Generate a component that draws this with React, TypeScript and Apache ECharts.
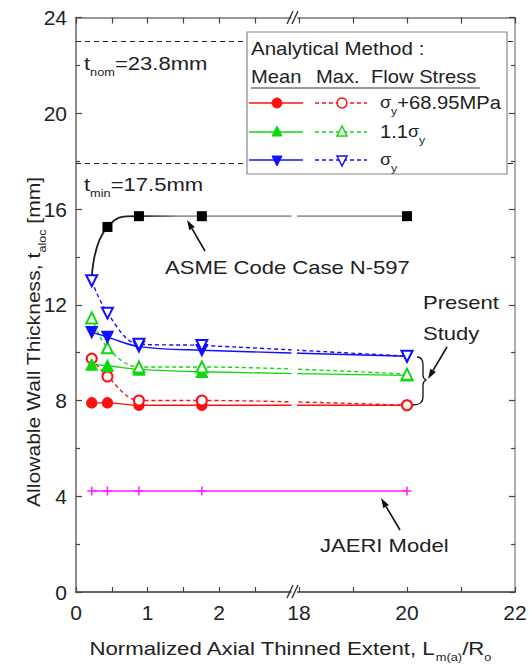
import { useEffect, useRef } from 'react';
import * as echarts from 'echarts';

// ---- data ----
const xValues = [0.22, 0.44, 0.88, 1.76, 20];
const redMean = [7.9, 7.9, 7.8, 7.8, 7.8];
const redMax = [9.75, 9.0, 8.0, 8.0, 7.8];
const greenMean = [9.5, 9.45, 9.3, 9.2, 9.05];
const greenMax = [11.45, 10.2, 9.4, 9.4, 9.1];
const blueMean = [10.85, 10.65, 10.25, 10.1, 9.85];
const blueMax = [13.0, 11.65, 10.35, 10.3, 9.85];
const asme = [13.0, 15.25, 15.7, 15.7, 15.7];
const jaeri = [4.22, 4.22, 4.22, 4.22, 4.22];
const refLines = [23.0, 17.9];
const xMajorTicks = [0, 1, 2, 18, 20, 22];
const xMinorTicks = [0.5, 1.5, 2.5, 19, 21];

// broken x-axis scale (0..3 and 18..22 segments)
const LEFT_SCALE = 71.5;
const RIGHT_ORIGIN = 223;
const RIGHT_SCALE = 54;
const U_MAX = 439;
const toU = (x: number) => (x < 10 ? x * LEFT_SCALE : RIGHT_ORIGIN + (x - 18) * RIGHT_SCALE);
const fromU = (u: number) => (u < 221 ? u / LEFT_SCALE : 18 + (u - RIGHT_ORIGIN) / RIGHT_SCALE);

const FONT = '"Liberation Sans", Arial, Helvetica, sans-serif';
const RED = '#ff1010';
const GREEN = '#10d810';
const BLUE = '#1010ff';
const MAGENTA = '#ff20ff';
const TXT = '#222';

const pts = (ys: number[]) => xValues.map((x, i) => [toU(x), ys[i]]);

function lineSeries(name: string, ys: number[], color: string, symbol: string, dashed: boolean, rotate = 0, size = 10) {
  return {
    name,
    type: 'line',
    data: pts(ys),
    smooth: 0.35,
    symbol,
    symbolSize: size,
    symbolRotate: rotate,
    showAllSymbol: true,
    itemStyle: { color, borderColor: color, borderWidth: 1.5 },
    lineStyle: { color, width: 1.4, type: dashed ? [4, 3] : 'solid' },
    z: 2,
  };
}

function arrow(x1: number, y1: number, x2: number, y2: number) {
  const a = Math.atan2(y2 - y1, x2 - x1);
  const L = 10, W = 3.2;
  const c = Math.cos(a), s = Math.sin(a);
  const bx = x2 - L * c, by = y2 - L * s;
  const px = -s * W, py = c * W;
  return [
    { type: 'line', z: 10, shape: { x1, y1, x2: bx, y2: by }, style: { stroke: '#111', lineWidth: 1.6 } },
    { type: 'polygon', z: 10, shape: { points: [[x2, y2], [bx + px, by + py], [bx - px, by - py]] }, style: { fill: '#111' } },
  ];
}

function richFor(size: number) {
  const lh = Math.round(size * 1.5);
  return {
    n: { fontSize: size, fontFamily: FONT, fill: TXT, lineHeight: lh, verticalAlign: 'middle' },
    sub: { fontSize: Math.round(size * 0.6), fontFamily: FONT, fill: TXT, lineHeight: lh, verticalAlign: 'bottom' },
    s: { fontSize: Math.round(size * 0.88), fontFamily: FONT, fill: TXT, lineHeight: lh, verticalAlign: 'middle' },
  };
}

function text(x: number, y: number, t: string, size = 19, sx = 1.16, align = 'left') {
  return {
    type: 'text', x, y, z: 11, scaleX: sx,
    style: { text: t, fill: TXT, font: `${size}px ${FONT}`, align, verticalAlign: 'middle', rich: richFor(size) },
  };
}

function marker(kind: string, cx: number, cy: number, color: string, filled: boolean) {
  const st = filled ? { fill: color, stroke: color, lineWidth: 1 } : { fill: '#fff', stroke: color, lineWidth: 1.5 };
  if (kind === 'circle') return { type: 'circle', z: 11, shape: { cx, cy, r: 5 }, style: st };
  const h = 5;
  const up = kind === 'up';
  const points = up
    ? [[cx, cy - h - 1], [cx - h, cy + h - 1], [cx + h, cy + h - 1]]
    : [[cx, cy + h + 1], [cx - h, cy - h + 1], [cx + h, cy - h + 1]];
  return { type: 'polygon', z: 11, shape: { points }, style: st };
}

function legendRow(y: number, color: string, kind: string, label: string) {
  return [
    { type: 'line', z: 11, shape: { x1: 249, y1: y, x2: 303, y2: y }, style: { stroke: color, lineWidth: 1.4 } },
    { type: 'line', z: 11, shape: { x1: 315, y1: y, x2: 367, y2: y }, style: { stroke: color, lineWidth: 1.4, lineDash: [4, 3] } },
    marker(kind, 277, y, color, true),
    marker(kind, 342, y, color, false),
    text(380, y, label, 18, 1.12),
  ];
}

export default function App() {
  const ref = useRef<HTMLDivElement>(null);
  useEffect(() => {
    if (!ref.current) return;
    echarts.graphic.registerShape(
      'brace',
      echarts.graphic.extendPath(
        'M4,0 C8,0 10,3 10,8 L10,18 C10,21 11,22 13,23 C11,24 10,25 10,28 L10,40 C10,45 7,48 0,48',
        {}
      )
    );
    const chart = echarts.init(ref.current, undefined, { renderer: 'svg' });
    const gridLeft = 76, gridTop = 17.5, gridRight = 15, gridBottom = 78;
    const tickVals = [...xMajorTicks, ...xMinorTicks].map(toU);
    const asmeGrad = new echarts.graphic.LinearGradient(76, 0, 515, 0, [
      { offset: 0, color: '#1a1a1a' },
      { offset: 0.14, color: '#222' },
      { offset: 0.24, color: '#999' },
      { offset: 1, color: '#999' },
    ], true);
    const tickStyle = { color: '#444', width: 1.2 };

    const option: any = {
      animation: false,
      backgroundColor: '#fff',
      grid: { left: gridLeft, top: gridTop, right: gridRight, bottom: gridBottom },
      xAxis: [
        {
          type: 'value', min: 0, max: U_MAX, position: 'bottom',
          axisLine: { show: true, onZero: false, lineStyle: { color: '#666', width: 1.8 } },
          axisTick: { show: true, inside: true, length: 5, customValues: tickVals, lineStyle: tickStyle },
          axisLabel: {
            customValues: xMajorTicks.map(toU),
            formatter: (v: number) => String(Math.round(fromU(v))),
            fontFamily: FONT, fontSize: 21, color: TXT, margin: 10,
          },
          splitLine: { show: false },
        },
        {
          type: 'value', min: 0, max: U_MAX, position: 'top',
          axisLine: { show: true, onZero: false, lineStyle: { color: '#777', width: 1.6 } },
          axisTick: { show: true, inside: true, length: 6, customValues: tickVals, lineStyle: tickStyle },
          axisLabel: { show: false },
          splitLine: { show: false },
        },
      ],
      yAxis: [
        {
          type: 'value', min: 0, max: 24, interval: 4, position: 'left',
          axisLine: { show: true, onZero: false, lineStyle: { color: '#8c8c8c', width: 2 } },
          axisTick: { show: true, inside: true, length: 6, lineStyle: tickStyle },
          minorTick: { show: true, splitNumber: 2, length: 4, lineStyle: tickStyle },
          axisLabel: { fontFamily: FONT, fontSize: 21, color: TXT, margin: 9 },
          splitLine: { show: false },
        },
        {
          type: 'value', min: 0, max: 24, interval: 4, position: 'right',
          axisLine: { show: true, onZero: false, lineStyle: { color: '#999', width: 1.6 } },
          axisTick: { show: true, inside: true, length: 6, lineStyle: tickStyle },
          minorTick: { show: true, splitNumber: 2, length: 4, lineStyle: tickStyle },
          axisLabel: { show: false },
          splitLine: { show: false },
        },
      ],
      series: [
        {
          name: 'ASME Code Case N-597',
          type: 'line',
          data: pts(asme).map((p, i) => (i === 0 ? { value: p, symbol: 'none' } : p)),
          smooth: 0.6,
          symbol: 'rect',
          symbolSize: 10,
          itemStyle: { color: '#000' },
          lineStyle: { color: asmeGrad, width: 1.8 },
          z: 2,
          markLine: {
            silent: true,
            symbol: 'none',
            label: { show: false },
            lineStyle: { color: '#222', width: 1, type: [5, 4] },
            data: refLines.map((v) => ({ yAxis: v })),
          },
        },
        lineSeries('σy+68.95MPa mean', redMean, RED, 'circle', false, 0, 10),
        lineSeries('σy+68.95MPa max', redMax, RED, 'emptyCircle', true, 0, 10),
        lineSeries('1.1σy mean', greenMean, GREEN, 'triangle', false, 0, 11),
        lineSeries('1.1σy max', greenMax, GREEN, 'emptyTriangle', true, 0, 11),
        lineSeries('σy mean', blueMean, BLUE, 'triangle', false, 180, 11),
        lineSeries('σy max', blueMax, BLUE, 'emptyTriangle', true, 180, 11),
        {
          name: 'JAERI Model',
          type: 'line',
          data: pts(jaeri),
          symbol: 'path://M5,0 L5,10 M0,5 L10,5',
          symbolSize: [9, 9],
          itemStyle: { color: 'none', borderColor: MAGENTA, borderWidth: 1.5 },
          lineStyle: { color: MAGENTA, width: 1.4 },
          z: 5,
        },
      ],
      graphic: {
        elements: [
          // break gap in the curves
          { type: 'rect', z: 4, shape: { x: 291.5, y: 12, width: 5.5, height: 586 }, style: { fill: '#fff' } },
          // break marks
          { type: 'line', z: 6, shape: { x1: 287, y1: 598, x2: 293, y2: 585 }, style: { stroke: '#333', lineWidth: 1.4 } },
          { type: 'line', z: 6, shape: { x1: 292, y1: 598, x2: 298, y2: 585 }, style: { stroke: '#333', lineWidth: 1.4 } },
          { type: 'line', z: 6, shape: { x1: 287, y1: 24, x2: 293, y2: 11 }, style: { stroke: '#333', lineWidth: 1.4 } },
          { type: 'line', z: 6, shape: { x1: 292, y1: 24, x2: 298, y2: 11 }, style: { stroke: '#333', lineWidth: 1.4 } },
          // legend box
          { type: 'rect', z: 10, shape: { x: 247, y: 32, width: 260, height: 142 }, style: { fill: '#fff', stroke: '#888', lineWidth: 1.2 } },
          text(251, 49, 'Analytical Method :', 18, 1.14),
          text(251, 77, 'Mean', 18, 1.12),
          text(316, 77, 'Max.', 18, 1.12),
          text(371, 77, 'Flow Stress', 18, 1.12),
          { type: 'line', z: 11, shape: { x1: 251, y1: 88, x2: 480, y2: 88 }, style: { stroke: '#333', lineWidth: 1 } },
          ...legendRow(103, RED, 'circle', '{s|σ}{sub|y}{n|+68.95MPa}'),
          ...legendRow(132, GREEN, 'up', '{n|1.1}{s|σ}{sub|y}'),
          ...legendRow(160, BLUE, 'down', '{s|σ}{sub|y}'),
          // annotations
          text(84, 63, '{n|t}{sub|nom}{n|=23.8mm}'),
          text(84, 184, '{n|t}{sub|min}{n|=17.5mm}'),
          text(165, 267, 'ASME Code Case N-597'),
          ...arrow(205, 251, 187, 220),
          text(423, 302, 'Present'),
          text(423, 333, 'Study'),
          ...arrow(447, 347, 428, 379),
          { type: 'brace', z: 11, x: 413, y: 357, style: { fill: 'none', stroke: '#111', lineWidth: 1.3 } },
          text(320, 545, 'JAERI Model'),
          ...arrow(400, 530, 381, 498),
          // axis titles
          {
            type: 'text', z: 11, x: 33, y: 342, rotation: Math.PI / 2, scaleX: 1.14,
            style: {
              text: '{n|Allowable Wall Thickness, t}{sub|aloc}{n| [mm]}',
              fill: TXT, align: 'center', verticalAlign: 'middle',
              rich: richFor(18.5),
            },
          },
          {
            type: 'text', z: 11, x: 290, y: 648, scaleX: 1.17,
            style: {
              text: '{n|Normalized Axial Thinned Extent, L}{sub|m(a)}{n|/R}{sub|o}',
              fill: TXT, align: 'center', verticalAlign: 'middle',
              rich: richFor(19),
            },
          },
        ],
      },
    };
    chart.setOption(option);
    return () => chart.dispose();
  }, []);
  return <div ref={ref} style={{ position: 'fixed', left: 0, top: 0, width: 530, height: 670, background: '#fff' }} />;
}
